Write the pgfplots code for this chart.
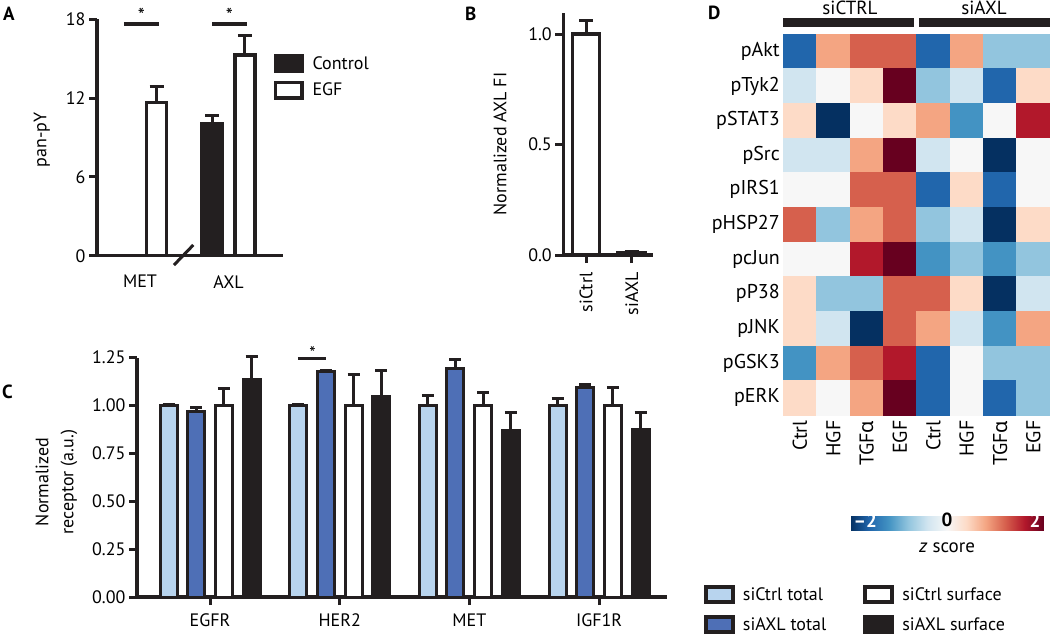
\documentclass[border=0pt]{standalone}
\usepackage{fontspec}
\setmainfont{PT Sans}
\newfontfamily\grk{Noto Sans}
\usepackage{pgfplots}
\pgfplotsset{compat=1.18}
\definecolor{ltblue}{HTML}{B8D4EE}
\definecolor{dkblue}{HTML}{4E6FB6}
\definecolor{blk}{HTML}{231F20}
\pgfplotsset{
  panel/.style={
    scale only axis,
    font=\fontsize{18}{21}\selectfont,
    /pgf/number format/assume math mode=true,
    axis x line*=bottom, axis y line*=left,
    x axis line style={-}, y axis line style={-},
    axis line style={line width=3.5pt, blk},
    tick style={line width=3pt, blk},
    tick align=outside,
    major tick length=8pt,
    enlargelimits=false,
    clip=false,
  },
  ebar/.style={/pgfplots/error bars/y dir=plus, /pgfplots/error bars/y explicit,
     /pgfplots/error bars/error bar style={line width=3pt, blk},
     /pgfplots/error bars/error mark options={rotate=90, mark size=#1, line width=3pt, blk}},
  legA/.style={legend image code/.code={\draw[fill=#1,draw=blk,line width=3.5pt] (0pt,-7.6pt) rectangle (26.5pt,7.6pt);}},
  legC/.style={legend image code/.code={\draw[fill=#1,draw=blk,line width=4pt] (0pt,-7.65pt) rectangle (27pt,7.65pt);}},
}
\begin{document}
\begin{tikzpicture}
% panel letters
\begin{scope}[every node/.style={font=\bfseries\fontsize{19}{19}\selectfont, inner sep=0pt, anchor=north west}]
\node at (3pt,-7pt) {A};
\node at (465pt,-7pt) {B};
\node at (2pt,-385pt) {C};
\node at (708pt,-6pt) {D};
\end{scope}

% ---------------- Panel A ----------------
\begin{axis}[panel, at={(97pt,-255.7pt)}, anchor=south west,
  width=186pt, height=236.4pt,
  xmin=-0.486, xmax=1.616, ymin=0, ymax=18,
  xtick=\empty,
  extra x ticks={0,1}, extra x tick labels={MET,AXL},
  extra x tick style={major tick length=0pt, tick style={draw=none}, xticklabel style={yshift=-16pt}},
  ytick={0,6,12,18}, yticklabels={0,6,12,18},
  ylabel={pan-pY}, ylabel style={at={(axis description cs:-0.296,0.49)}, anchor=center},
  legend style={at={(axis description cs:0.948,0.853)}, anchor=north west, draw=none, fill=none,
     inner sep=0pt, row sep=8pt, font=\fontsize{18}{21}\selectfont,
     /tikz/every odd column/.append style={column sep=7pt}},
  legend cell align=left]
\addplot[ybar, bar shift=0pt, bar width=20pt, fill=blk, draw=blk, line width=3.5pt, legA=blk, ebar=7pt]
  coordinates {(-0.186,0) +- (0,0) (0.814,10.05) +- (0,0.65)};
\addlegendentry{Control}
\addplot[ybar, bar shift=0pt, bar width=20pt, fill=white, draw=blk, line width=3.5pt, legA=white, ebar=7pt]
  coordinates {(0.189,11.65) +- (0,1.22) (1.186,15.29) +- (0,1.47)};
\addlegendentry{EGF}
\draw[line width=3.5pt, blk] (axis cs:-0.181,17.65) -- (axis cs:0.211,17.65);
\draw[line width=3.5pt, blk] (axis cs:0.814,17.65) -- (axis cs:1.206,17.65);
\node[anchor=base, inner sep=0pt, font=\fontsize{20}{20}\selectfont] at (axis cs:0.015,17.75) {*};
\node[anchor=base, inner sep=0pt, font=\fontsize{20}{20}\selectfont] at (axis cs:1.01,17.75) {*};
\draw[line width=3pt, blk] (axis cs:0.384,-0.71) -- (axis cs:0.602,0.815);
\end{axis}

% ---------------- Panel B ----------------
\begin{axis}[panel, at={(563.3pt,-255pt)}, anchor=south west,
  width=89.7pt, height=241.7pt,
  xmin=-0.497, xmax=1.466, ymin=0, ymax=1.094,
  xtick={0,1}, xticklabels={siCtrl,siAXL}, xticklabel style={yshift=-6pt, rotate=90, anchor=east},
  ytick={0,0.5,1}, yticklabels={0.0,0.5,1.0},
  ylabel={Normalized AXL FI}, ylabel style={at={(axis description cs:-0.706,0.459)}, anchor=center}]
\addplot[ybar, bar shift=0pt, bar width=27pt, fill=white, draw=blk, line width=3.5pt, ebar=7pt]
  coordinates {(0,1.0) +- (0,0.063) (1,0.012) +- (0,0.004)};
\end{axis}

% ---------------- Panel C ----------------
\begin{axis}[panel, at={(137pt,-597pt)}, anchor=south west,
  width=530pt, height=239.5pt,
  xmin=-0.563, xmax=3.524, ymin=0, ymax=1.25,
  xtick={0,1,2,3}, xticklabels={EGFR,HER2,MET,IGF1R}, xticklabel style={yshift=-5pt},
  ytick={0,0.25,0.5,0.75,1,1.25}, yticklabels={0.00,0.25,0.50,0.75,1.00,1.25},
  ylabel={Normalized\\receptor (a.u.)},
  ylabel style={align=center, font=\fontsize{18}{25}\selectfont, at={(axis description cs:-0.152,0.48)}, anchor=center},
  legend columns=2, transpose legend,
  legend style={at={(axis description cs:1.0693,0.052)}, anchor=north west, draw=none, fill=none,
     inner sep=0pt, row sep=11pt, font=\fontsize{18}{21}\selectfont,
     /tikz/every odd column/.append style={column sep=6pt},
     /tikz/every even column/.append style={column sep=35pt}},
  legend cell align=left]
\addplot[ybar, bar shift=0pt, bar width=17pt, fill=ltblue, draw=blk, line width=3pt, legC=ltblue, ebar=6pt]
  coordinates {(-0.32,1.0) +- (0,0.006) (0.68,1.0) +- (0,0.006) (1.68,1.0) +- (0,0.05) (2.68,1.0) +- (0,0.035)};
\addlegendentry{siCtrl total}
\addplot[ybar, bar shift=0pt, bar width=17pt, fill=dkblue, draw=blk, line width=3pt, legC=dkblue, ebar=6pt]
  coordinates {(-0.107,0.969) +- (0,0.022) (0.893,1.178) +- (0,0.006) (1.893,1.195) +- (0,0.045) (2.893,1.093) +- (0,0.017)};
\addlegendentry{siAXL total}
\addplot[ybar, bar shift=0pt, bar width=17pt, fill=white, draw=blk, line width=3pt, legC=white, ebar=6pt]
  coordinates {(0.107,1.0) +- (0,0.09) (1.107,1.0) +- (0,0.16) (2.107,1.0) +- (0,0.066) (3.107,1.0) +- (0,0.093)};
\addlegendentry{siCtrl surface}
\addplot[ybar, bar shift=0pt, bar width=17pt, fill=blk, draw=blk, line width=3pt, legC=blk, ebar=6pt]
  coordinates {(0.32,1.133) +- (0,0.12) (1.32,1.047) +- (0,0.135) (2.32,0.869) +- (0,0.093) (3.32,0.873) +- (0,0.092)};
\addlegendentry{siAXL surface}
\draw[line width=2.5pt, blk] (axis cs:0.678,1.246) -- (axis cs:0.897,1.246);
\node[anchor=base, inner sep=0pt, font=\fontsize{18}{18}\selectfont] at (axis cs:0.79,1.24) {*};
\end{axis}

% ---------------- Panel D ----------------
\begin{axis}[scale only axis, at={(783.3pt,-415pt)}, anchor=south west,
  width=266.7pt, height=381pt,
  font=\fontsize{20}{24}\selectfont,
  xmin=-0.5, xmax=7.5, ymin=-0.5, ymax=10.5, y dir=reverse, enlargelimits=false,
  axis line style={draw=none}, major tick length=0pt, tick style={draw=none},
  xtick={0,1,2,3,4,5,6,7},
  xticklabels={Ctrl,HGF,TGF{\grk α},EGF,Ctrl,HGF,TGF{\grk α},EGF},
  xticklabel style={yshift=-2pt, rotate=90, anchor=east},
  ytick={0,1,2,3,4,5,6,7,8,9,10},
  yticklabels={pAkt,pTyk2,pSTAT3,pSrc,pIRS1,pHSP27,pcJun,pP38,pJNK,pGSK3,pERK},
  colormap={rdbu}{rgb255=(5,48,97) rgb255=(33,102,172) rgb255=(67,147,195) rgb255=(146,197,222)
    rgb255=(209,229,240) rgb255=(247,247,247) rgb255=(253,219,199) rgb255=(244,165,130)
    rgb255=(214,96,77) rgb255=(178,24,43) rgb255=(103,0,31)},
  point meta min=-2, point meta max=2,
  colorbar horizontal,
  colorbar style={at={(parent axis.south west)}, anchor=north west, xshift=66.7pt, yshift=-86.7pt,
    width=194pt, height=20pt, scale only axis, axis line style={draw=none}, xtick=\empty,
    xlabel={\textit{z} score}, xlabel style={font=\fontsize{19}{22}\selectfont, yshift=-9pt},
    extra description/.code={
      \node[anchor=west, white, font=\bfseries\fontsize{19}{19}\selectfont] at (0,0.5) {–2};
      \node[anchor=center, black, font=\bfseries\fontsize{19}{19}\selectfont] at (0.5,0.5) {0};
      \node[anchor=east, white, font=\bfseries\fontsize{19}{19}\selectfont] at (1,0.5) {2};
    }},
  clip=false]
\addplot[matrix plot*, point meta=explicit, mesh/cols=8] coordinates {
 (0,0) [-1.6] (1,0) [0.8] (2,0) [1.2] (3,0) [1.2] (4,0) [-1.6] (5,0) [0.8] (6,0) [-0.8] (7,0) [-0.8]
 (0,1) [-0.4] (1,1) [0] (2,1) [0.4] (3,1) [2] (4,1) [-0.8] (5,1) [-0.4] (6,1) [-1.6] (7,1) [0.4]
 (0,2) [0.4] (1,2) [-2] (2,2) [0] (3,2) [0.4] (4,2) [0.8] (5,2) [-1.2] (6,2) [0] (7,2) [1.6]
 (0,3) [-0.4] (1,3) [-0.4] (2,3) [0.8] (3,3) [2] (4,3) [-0.4] (5,3) [0] (6,3) [-2] (7,3) [0]
 (0,4) [0] (1,4) [0] (2,4) [1.2] (3,4) [1.2] (4,4) [-1.6] (5,4) [0.4] (6,4) [-1.6] (7,4) [0]
 (0,5) [1.2] (1,5) [-0.8] (2,5) [0.8] (3,5) [1.2] (4,5) [-0.8] (5,5) [-0.4] (6,5) [-2] (7,5) [0.4]
 (0,6) [0] (1,6) [0] (2,6) [1.6] (3,6) [2] (4,6) [-1.2] (5,6) [-0.8] (6,6) [-1.2] (7,6) [-0.8]
 (0,7) [0.4] (1,7) [-0.8] (2,7) [-0.8] (3,7) [1.2] (4,7) [1.2] (5,7) [0.4] (6,7) [-2] (7,7) [-0.4]
 (0,8) [0.4] (1,8) [-0.4] (2,8) [-2] (3,8) [1.2] (4,8) [0.8] (5,8) [-0.4] (6,8) [-1.2] (7,8) [0.8]
 (0,9) [-1.2] (1,9) [0.8] (2,9) [1.2] (3,9) [1.6] (4,9) [-1.6] (5,9) [0] (6,9) [-0.8] (7,9) [-0.8]
 (0,10) [0.4] (1,10) [0] (2,10) [0.8] (3,10) [2] (4,10) [-1.6] (5,10) [0] (6,10) [-1.6] (7,10) [-0.8]
};
\fill[blk] (axis cs:-0.5,-0.953) rectangle (axis cs:3.42,-0.711);
\fill[blk] (axis cs:3.57,-0.953) rectangle (axis cs:7.5,-0.711);
\node[anchor=base, inner sep=0pt, font=\fontsize{19}{19}\selectfont] at (axis cs:1.5,-1.05) {siCTRL};
\node[anchor=base, inner sep=0pt, font=\fontsize{19}{19}\selectfont] at (axis cs:5.52,-1.05) {siAXL};
\end{axis}
\pgfresetboundingbox
\path[use as bounding box] (0pt,0pt) rectangle (1050pt,-635pt);
\end{tikzpicture}
\end{document}
